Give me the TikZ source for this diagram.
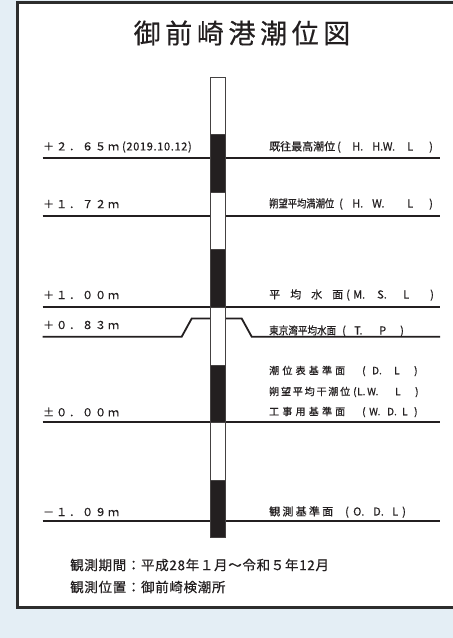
\documentclass[tikz,border=0pt]{standalone}
\usepackage{fontspec}
\usepackage{graphicx}
\newfontfamily\jp[FakeBold=0.5]{Noto Sans CJK JP}
\definecolor{ink}{RGB}{35,31,32}
\definecolor{bg}{RGB}{228,238,245}
\definecolor{frame}{RGB}{45,45,45}
\newcommand{\kj}[2]{\makebox[#1][s]{#2}}
\newcommand{\kjfit}[2]{\resizebox{#1}{\height}{#2}}
\newcommand{\cl}[2]{\makebox[#1][l]{#2}}
\tikzset{
  lvl/.style={line width=1.8pt, draw=ink},
  lefttxt/.style={anchor=west, inner sep=0pt, text=ink,
    font=\jp\fontsize{11}{11}\selectfont\addfontfeature{LetterSpace=18}},
  righttxt/.style={anchor=west, inner sep=0pt, text=ink,
    font=\jp\fontsize{11}{11}\selectfont},
  smalltxt/.style={anchor=west, inner sep=0pt, text=ink,
    font=\jp\fontsize{10}{10}\selectfont},
  foottxt/.style={anchor=west, inner sep=0pt, text=ink,
    font=\jp\fontsize{13.5}{13.5}\selectfont\addfontfeature{LetterSpace=5}},
  staffw/.style={fill=white, draw=ink!85, line width=0.8pt},
  staffb/.style={fill=ink, draw=ink!85, line width=0.8pt},
}
\begin{document}
\begin{tikzpicture}[x=1pt,y=-1pt]
\useasboundingbox (0,0) rectangle (453,638);
\clip (0,0) rectangle (453,638);
\fill[bg] (0,0) rectangle (453,638);
\draw[frame, fill=white, line width=2.2pt] (17.5,2.5) rectangle (470,607.5);

% title
\node[inner sep=0pt, text=ink, font=\jp\fontsize{27}{27}\selectfont\addfontfeature{LetterSpace=17}] (title) at (242,33) {御前崎港潮位図};

% level lines
\draw[lvl] (42.7,158.3) -- (440,158.3);
\draw[lvl] (42.7,216) -- (440,216);
\draw[lvl] (42.7,307.3) -- (440,307.3);
\draw[lvl] (42.7,336.7) -- (181.7,336.7) -- (191.7,318.5) -- (217,318.5);
\draw[lvl] (217,318.5) -- (241.7,318.5) -- (251.7,336.7) -- (440,336.7);
\draw[lvl] (42.7,421.7) -- (440,421.7);
\draw[lvl] (42.7,520.7) -- (440,520.7);

% staff
\foreach \i in {0,...,7}{
  \pgfmathsetmacro{\ya}{77+57.6*\i}
  \pgfmathsetmacro{\yb}{77+57.6*(\i+1)}
  \pgfmathparse{mod(\i,2)==0 ? "staffw" : "staffb"}
  \edef\sty{\pgfmathresult}
  \path[\sty] (210,\ya) rectangle (225,\yb);
}

% left labels
\node[lefttxt] (l265) at (43,147) {＋２．６５ｍ\hspace{3pt}{\addfontfeature{LetterSpace=6}(2019.10.12)}};
\node[lefttxt] (l172) at (43,204) {＋１．７２ｍ};
\node[lefttxt] (l100) at (43,295) {＋１．００ｍ};
\node[lefttxt] (l083) at (43,325) {＋０．８３ｍ};
\node[lefttxt] (l000) at (43,412) {±０．００ｍ};
\node[lefttxt] (l109) at (43,512) {－１．０９ｍ};

% right labels
\node[righttxt] (r1) at (269,147) {\kj{66pt}{既往最高潮位}\hspace{2pt}\cl{15pt}{(}\cl{20pt}{H.}\cl{35pt}{H.W.}\cl{22pt}{L})};
\node[righttxt] (r2) at (269,204) {\kjfit{65pt}{朔望平均満潮位}\hspace{5pt}\cl{13pt}{(}\cl{20pt}{H.}\cl{35pt}{W.}\cl{22pt}{L})};
\node[righttxt] (r3) at (269,295) {\kj{74pt}{平\hfill 均\hfill 水\hfill 面}\hspace{3pt}\cl{7pt}{(}\cl{24pt}{M.}\cl{26pt}{S.}\cl{27pt}{L})};
\node[righttxt] (r4) at (269,331) {\kjfit{67pt}{東京湾平均水面}\hspace{6pt}\cl{12pt}{(}\cl{25pt}{T.}\cl{21pt}{P})};
\node[smalltxt] (r5a) at (269,371) {\kj{76pt}{潮\hfill 位\hfill 表\hfill 基\hfill 準\hfill 面}\hspace{17pt}\cl{10pt}{(}\cl{22pt}{D.}\cl{20pt}{L})};
\node[smalltxt] (r5b) at (269,392) {\kj{81pt}{朔\hfill 望\hfill 平\hfill 均\hfill 干\hfill 潮\hfill 位}\hspace{3pt}\cl{4pt}{(}\cl{10pt}{L.}\cl{28pt}{W.}\cl{20pt}{L})};
\node[smalltxt] (r5c) at (269,412) {\kj{76pt}{工\hfill 事\hfill 用\hfill 基\hfill 準\hfill 面}\hspace{17pt}\cl{7pt}{(}\cl{18pt}{W.}\cl{15pt}{D.}\cl{12pt}{L})};
\node[righttxt] (r6) at (269,512) {\kj{64pt}{観\hfill 測\hfill 基\hfill 準\hfill 面}\hspace{12pt}\cl{8pt}{(}\cl{20pt}{O.}\cl{19pt}{D.}\cl{10pt}{L})};

% footer
\node[foottxt] (f1) at (70,565) {観測期間：平成28年１月～令和５年12月};
\node[foottxt] (f2) at (70,587) {観測位置：御前崎検潮所};
\end{tikzpicture}
\end{document}
